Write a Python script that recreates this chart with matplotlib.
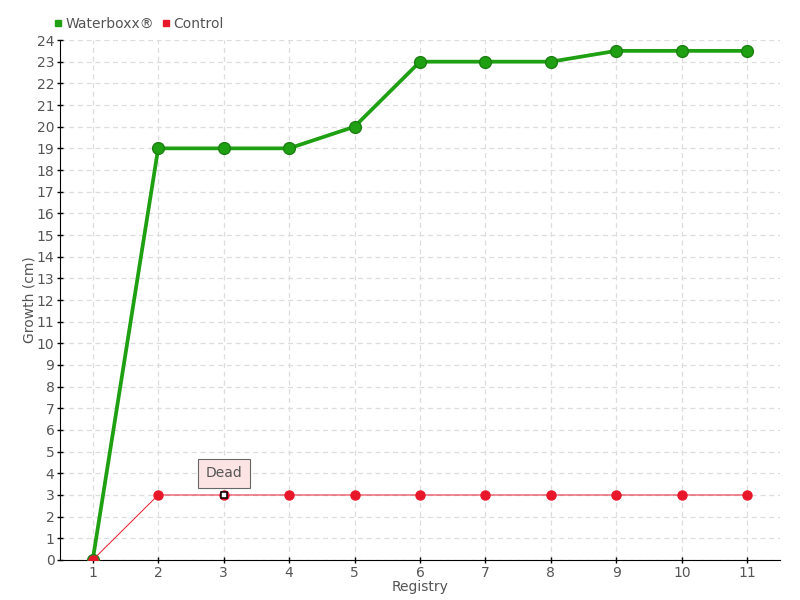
import matplotlib
matplotlib.use("Agg")
import matplotlib.pyplot as plt
from matplotlib.lines import Line2D

# data
registry = [1, 2, 3, 4, 5, 6, 7, 8, 9, 10, 11]
waterboxx = [0, 19, 19, 19, 20, 23, 23, 23, 23.5, 23.5, 23.5]
control = [0, 3, 3, 3, 3, 3, 3, 3, 3, 3, 3]
dead_index = 2  # registry 3, control plant marked dead

green = "#1fa012"
green_dark = "#1c7f12"
red = "#e8182a"
text_col = "#555555"

plt.rcParams.update({
    "font.family": ["Liberation Sans Narrow", "DejaVu Sans"],
    "font.size": 10,
    "text.color": text_col,
    "axes.labelcolor": text_col,
    "xtick.color": "black",
    "ytick.color": "black",
    "xtick.labelcolor": text_col,
    "ytick.labelcolor": text_col,
})

fig = plt.figure(figsize=(8, 6), dpi=100)
ax = fig.add_axes([0.075, 0.0667, 0.9, 0.8666])

ax.plot(registry, waterboxx, color=green, lw=2.7, marker="o", ms=8.5,
        mfc=green, mec=green_dark, mew=1, zorder=3)
ax.plot(registry, control, color=red, lw=0.7, marker="o", ms=6.5,
        mfc=red, mec=red, zorder=4)
ax.plot(registry[dead_index], control[dead_index], marker="s", ms=4,
        mfc="white", mec="black", mew=1.1, ls="none", zorder=5)

ax.annotate("Dead", xy=(registry[dead_index], control[dead_index]),
            xytext=(0, 15.5), textcoords="offset points", ha="center", va="center",
            fontsize=10, color=text_col,
            bbox=dict(boxstyle="square,pad=0.55", fc="#fde4e4", ec="#666666", lw=0.8),
            zorder=6)

ax.set_xlim(0.5, 11.5)
ax.set_ylim(0, 24)
ax.set_xticks(registry)
ax.set_yticks(range(0, 25))
ax.grid(True, color="#dddddd", ls=(0, (4, 3)), lw=0.9)
ax.set_axisbelow(True)
for side in ("top", "right"):
    ax.spines[side].set_visible(False)
ax.tick_params(axis="both", length=4, width=1, direction="inout", pad=2, labelsize=10)

ax.set_xlabel("Registry", labelpad=0, fontsize=10)
ax.set_ylabel("Growth (cm)", labelpad=0, fontsize=10)

handles = [
    Line2D([], [], ls="none", marker="s", ms=5, mfc=green, mec=green),
    Line2D([], [], ls="none", marker="s", ms=5, mfc=red, mec=red),
]
fig.legend(handles, ["Waterboxx\u00ae", "Control"], loc="upper left",
           bbox_to_anchor=(0.052, 0.993), ncol=2, frameon=False,
           handlelength=0.6, handletextpad=0.2, columnspacing=0.6, fontsize=10)

fig.savefig("out.png", dpi=100)
